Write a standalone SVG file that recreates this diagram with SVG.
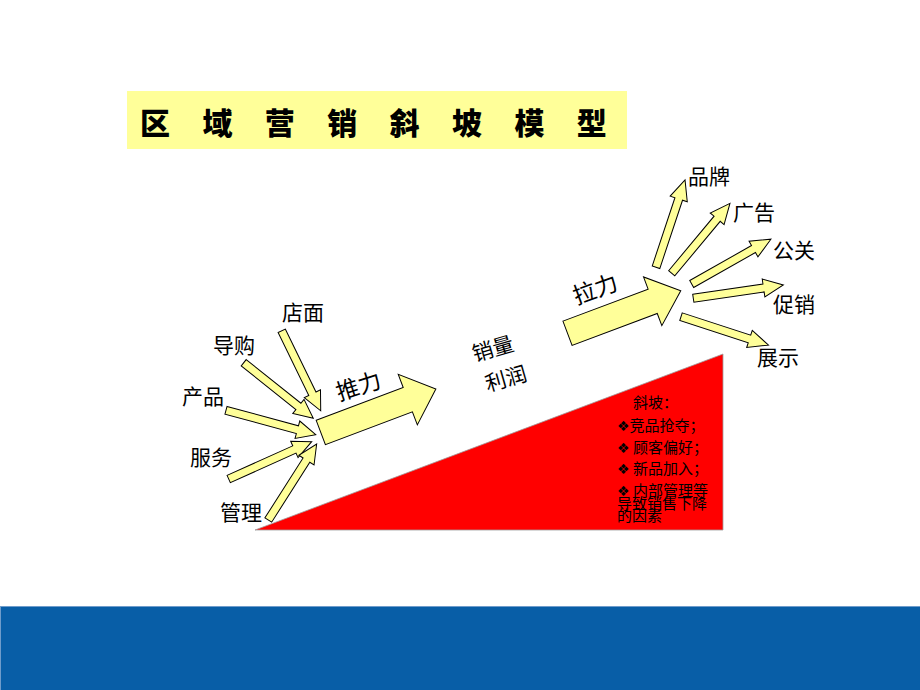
<svg xmlns="http://www.w3.org/2000/svg" width="920" height="690" viewBox="0 0 920 690">
<style>
.arr{fill:#FFFF99;stroke:#000;stroke-width:1;stroke-linejoin:miter}
.lbl{font-family:"Noto Sans CJK SC","Noto Sans",sans-serif;font-size:21px;fill:#000}
.big{font-family:"Noto Sans CJK SC","Noto Sans",sans-serif;font-size:23px;fill:#000}
.note{font-family:"Noto Sans CJK SC","DejaVu Sans",sans-serif;font-size:15px;fill:#000}
.bul{font-family:"DejaVu Sans","Noto Sans CJK SC",sans-serif;font-size:14px}
.title{font-family:"Noto Sans CJK SC",sans-serif;font-size:30px;font-weight:900;fill:#000}
</style>
<rect x="0" y="0" width="920" height="690" fill="#FFFFFF"/>
<g id="footer-band">
<rect x="0" y="606" width="920" height="84" fill="#085EA7"/>
<line x1="0" y1="606.5" x2="920" y2="606.5" stroke="#6F9CCB" stroke-width="1"/>
<line x1="0.5" y1="606" x2="0.5" y2="690" stroke="#6F9CCB" stroke-width="1"/>
</g>
<g id="title">
<rect x="127" y="91" width="500" height="58" fill="#FFFF99"/>
<text class="title" x="140 202.4 264.8 327.2 389.6 452 514.4 576.8" y="134">区域营销斜坡模型</text>
</g>
<g id="slope">
<polygon points="255,530 723,354 723,530" fill="#FF0000" stroke="#A0A0A0" stroke-width="0.8"/>
</g>
<g id="slope-factors">
<text class="note" x="633" y="408">斜坡：</text>
<text class="note" x="617" y="431"><tspan class="bul">❖</tspan>竞品抢夺；</text>
<text class="note" x="617" y="453"><tspan class="bul">❖</tspan> 顾客偏好；</text>
<text class="note" x="617" y="474"><tspan class="bul">❖</tspan> 新品加入；</text>
<text class="note" x="617" y="496"><tspan class="bul">❖</tspan> 内部管理等</text>
<text class="note" x="617" y="509">导致销售下降</text>
<text class="note" x="617" y="521">的因素</text>
</g>
<g id="connectors">
<path class="arr" transform="translate(320.8,432.5) rotate(-20.7)" d="M0,-13 H93 V-27 L123,0 L93,27 V13 H0 Z"/>
<path class="arr" transform="translate(567.5,333.3) rotate(-20.6)" d="M0,-13 H91 V-26 L121,0 L91,26 V13 H0 Z"/>
<path class="arr" transform="translate(281.7,330.8) rotate(64)" d="M0,-4 H70 V-9 L89,0 L70,9 V4 H0 Z"/>
<path class="arr" transform="translate(243.7,362.7) rotate(38.6)" d="M0,-4 H70 V-9 L89,0 L70,9 V4 H0 Z"/>
<path class="arr" transform="translate(226,410.3) rotate(15.2)" d="M0,-4 H74 V-9 L93,0 L74,9 V4 H0 Z"/>
<path class="arr" transform="translate(228.7,479) rotate(-24.2)" d="M0,-4 H72 V-9 L91,0 L72,9 V4 H0 Z"/>
<path class="arr" transform="translate(268.3,520) rotate(-57.5)" d="M0,-4 H71 V-9 L90,0 L71,9 V4 H0 Z"/>
<path class="arr" transform="translate(656,267.3) rotate(-71.6)" d="M0,-4 H72 V-9 L92,0 L72,9 V4 H0 Z"/>
<path class="arr" transform="translate(671.7,273.3) rotate(-50.2)" d="M0,-4 H71 V-9 L91,0 L71,9 V4 H0 Z"/>
<path class="arr" transform="translate(691.7,284) rotate(-29.5)" d="M0,-4 H71 V-9 L91,0 L71,9 V4 H0 Z"/>
<path class="arr" transform="translate(693.3,298.3) rotate(-8.4)" d="M0,-4 H71 V-9 L91,0 L71,9 V4 H0 Z"/>
<path class="arr" transform="translate(681,316.7) rotate(18)" d="M0,-4 H72 V-9 L92,0 L72,9 V4 H0 Z"/>
</g>
<g id="node-dianmian"><text class="lbl" x="282" y="320">店面</text></g>
<g id="node-daogou"><text class="lbl" x="213" y="353">导购</text></g>
<g id="node-chanpin"><text class="lbl" x="182" y="404">产品</text></g>
<g id="node-fuwu"><text class="lbl" x="190" y="465">服务</text></g>
<g id="node-guanli"><text class="lbl" x="220" y="520">管理</text></g>
<g id="node-tuili"><text class="big" text-anchor="middle" transform="translate(361,394) rotate(-18)">推力</text></g>
<g id="node-xiaoliang"><text class="lbl" text-anchor="middle" transform="translate(495,356) rotate(-16)">销量</text></g>
<g id="node-lirun"><text class="lbl" text-anchor="middle" transform="translate(508,386) rotate(-16)">利润</text></g>
<g id="node-lali"><text class="big" text-anchor="middle" transform="translate(598,297) rotate(-20)">拉力</text></g>
<g id="node-pinpai"><text class="lbl" x="688" y="184">品牌</text></g>
<g id="node-guanggao"><text class="lbl" x="733" y="220">广告</text></g>
<g id="node-gongguan"><text class="lbl" x="773" y="258">公关</text></g>
<g id="node-cuxiao"><text class="lbl" x="773" y="312">促销</text></g>
<g id="node-zhanshi"><text class="lbl" x="757" y="365">展示</text></g>
</svg>
